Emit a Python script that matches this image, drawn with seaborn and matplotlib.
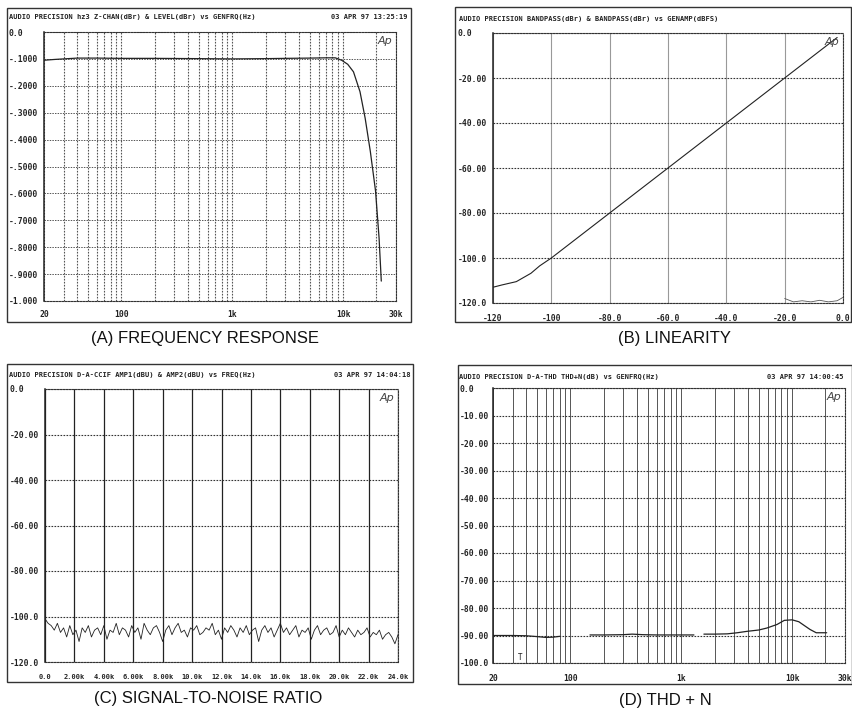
import numpy as np
import matplotlib
matplotlib.use("Agg")
import matplotlib.pyplot as plt
import seaborn as sns
from matplotlib.patches import Rectangle
from matplotlib.ticker import LogLocator, NullFormatter

# --- (A) frequency response ---
freq_a = [20, 25, 30, 40, 60, 100, 200, 500, 1000, 2000, 3000, 5000, 7000,
          8500, 9700, 11000, 12400, 14200, 15800, 17600, 19600, 21100, 22100]
level_a = [-0.105, -0.102, -0.1, -0.097, -0.097, -0.098, -0.098, -0.099, -0.1,
           -0.099, -0.098, -0.097, -0.096, -0.096, -0.105, -0.12, -0.148,
           -0.222, -0.32, -0.444, -0.59, -0.765, -0.926]

# --- (B) linearity ---
amp_b = [-120, -117, -112, -107, -104, -100, -90, -80, -70, -60, -50, -40,
         -30, -20, -10, -2]
out_b = [-113, -112, -110.5, -106.8, -103.5, -100, -90, -80, -70, -60, -50,
         -40, -30, -20, -10, -2]
amp_b2 = [-20, -17, -14, -11, -8, -5, -2, 0]
out_b2 = [-118, -119.5, -119, -119.5, -118.8, -119.5, -119, -117.5]

# --- (C) signal-to-noise ---
noise_c = [
    -101, -103, -104, -106, -103, -107, -105, -109, -104, -108, -106, -111,
    -105, -107, -104, -109, -106, -105, -108, -104, -110, -106, -107, -103,
    -108, -105, -106, -109, -104, -107, -105, -110, -103, -106, -108, -105,
    -104, -107, -111, -106, -104, -108, -105, -103, -107, -106, -109, -105,
    -106, -104, -108, -107, -105, -106, -103, -108, -106, -110, -105, -107,
    -104, -106, -109, -105, -107, -104, -108, -106, -105, -111, -106, -104,
    -107, -105, -109, -106, -103, -107, -105, -108, -106, -104, -109, -106,
    -107, -105, -110, -106, -104, -108, -106, -105, -108, -107, -104, -109,
    -106, -108, -105, -107, -109, -106, -108, -107, -105, -109, -107, -108,
    -106, -110, -108, -107, -109, -112, -108]
freq_c = np.linspace(0, 24000, len(noise_c))

# --- (D) THD + N, three sweeps with gaps ---
thd_f1 = [20, 30, 40, 50, 60, 70, 80]
thd_v1 = [-90, -90, -90.1, -90.4, -90.7, -90.6, -90.3]
thd_f2 = [150, 200, 300, 360, 450, 600, 1000, 1300]
thd_v2 = [-89.8, -89.8, -89.7, -89.5, -89.7, -89.8, -89.8, -89.8]
thd_f3 = [1600, 2000, 2600, 3200, 3900, 5000, 5900, 7300, 8500, 10000, 11500,
          12800, 14500, 16500, 20500]
thd_v3 = [-89.5, -89.5, -89.4, -89.0, -88.5, -88.0, -87.3, -86.0, -84.5,
          -84.3, -85.0, -86.3, -87.8, -89.0, -89.0]

# tick labels as printed on the plots
ya_ticks = [0, -0.1, -0.2, -0.3, -0.4, -0.5, -0.6, -0.7, -0.8, -0.9, -1.0]
ya_labels = ["0.0", "-.1000", "-.2000", "-.3000", "-.4000", "-.5000",
             "-.6000", "-.7000", "-.8000", "-.9000", "-1.000"]
logx_ticks = [20, 100, 1000, 10000, 30000]
logx_labels = ["20", "100", "1k", "10k", "30k"]
yb_ticks = [0, -20, -40, -60, -80, -100, -120]
yb_labels = ["0.0", "-20.00", "-40.00", "-60.00", "-80.00", "-100.0", "-120.0"]
xb_ticks = [-120, -100, -80, -60, -40, -20, 0]
xb_labels = ["-120", "-100", "-80.0", "-60.0", "-40.0", "-20.0", "0.0"]
xc_ticks = [0, 2000, 4000, 6000, 8000, 10000, 12000, 14000, 16000, 18000,
            20000, 22000, 24000]
xc_labels = ["0.0", "2.00k", "4.00k", "6.00k", "8.00k", "10.0k", "12.0k",
             "14.0k", "16.0k", "18.0k", "20.0k", "22.0k", "24.0k"]
yd_ticks = [0, -10, -20, -30, -40, -50, -60, -70, -80, -90, -100]
yd_labels = ["0.0", "-10.00", "-20.00", "-30.00", "-40.00", "-50.00",
             "-60.00", "-70.00", "-80.00", "-90.00", "-100.0"]

sns.set_theme(style="white")
plt.rcParams["font.family"] = ["DejaVu Sans"]

W, H = 853, 711
MONO = "DejaVu Sans Mono"
INK = "#222222"
DOT = (0, (1.5, 1.2))


def px_box(x0, y0, x1, y1):
    return [x0 / W, 1 - y1 / H, (x1 - x0) / W, (y1 - y0) / H]


def style_ax(ax, yt, yl, ypad, xt, xl, xpad, xsize=5.8):
    ax.set_yticks(yt)
    ax.set_yticklabels(yl, ha="left", family=MONO, fontsize=5.8,
                       fontweight="bold", color=INK)
    ax.set_xticks(xt)
    ax.set_xticklabels(xl, family=MONO, fontsize=xsize, fontweight="bold",
                       color=INK)
    ax.tick_params(axis="y", which="both", length=0, pad=ypad * 0.72)
    ax.tick_params(axis="x", which="both", length=0, pad=xpad * 0.72)
    ax.set_xlabel("")
    ax.set_ylabel("")
    for s in ["top", "right", "bottom"]:
        ax.spines[s].set_linestyle(DOT)
        ax.spines[s].set_linewidth(0.8)
        ax.spines[s].set_color("#333333")
    ax.spines["left"].set_linewidth(1.1)
    ax.spines["left"].set_color(INK)
    ax.set_axisbelow(True)
    ax.text(0.99, 0.985, "Ap", transform=ax.transAxes, ha="right", va="top",
            style="italic", fontsize=8, color="#444444")


def log_grid(ax):
    ax.set_xscale("log")
    ax.xaxis.set_minor_locator(LogLocator(base=10, subs=np.arange(2, 10)))
    ax.xaxis.set_minor_formatter(NullFormatter())


fig = plt.figure(figsize=(W / 100, H / 100), dpi=100)

# (A)
ax_a = fig.add_axes(px_box(44, 32, 396, 301))
sns.lineplot(x=freq_a, y=level_a, ax=ax_a, color=INK, linewidth=0.9)
log_grid(ax_a)
ax_a.set_xlim(20, 30000)
ax_a.set_ylim(-1.0, 0)
style_ax(ax_a, ya_ticks, ya_labels, 35, logx_ticks, logx_labels, 9)
ax_a.grid(True, which="both", axis="x", color="#555555", linestyle=DOT, linewidth=0.8)
ax_a.grid(True, which="major", axis="y", color="#555555", linestyle=DOT, linewidth=0.7)

# (B)
ax_b = fig.add_axes(px_box(493, 33, 843, 303))
sns.lineplot(x=amp_b, y=out_b, ax=ax_b, color=INK, linewidth=0.8)
sns.lineplot(x=amp_b2, y=out_b2, ax=ax_b, color="#555555", linewidth=0.6)
ax_b.set_xlim(-120, 0)
ax_b.set_ylim(-120, 0)
style_ax(ax_b, yb_ticks, yb_labels, 35, xb_ticks, xb_labels, 11)
ax_b.grid(True, axis="x", color="#999999", linestyle="-", linewidth=0.8)
ax_b.grid(True, axis="y", color="#333333", linestyle=DOT, linewidth=0.8)

# (C)
ax_c = fig.add_axes(px_box(45, 389, 398, 662))
sns.lineplot(x=freq_c, y=noise_c, ax=ax_c, color=INK, linewidth=0.6)
ax_c.set_xlim(0, 24000)
ax_c.set_ylim(-120, 0)
style_ax(ax_c, yb_ticks, yb_labels, 35, xc_ticks, xc_labels, 12, xsize=5.0)
ax_c.grid(True, axis="x", color="#222222", linestyle="-", linewidth=0.9)
ax_c.grid(True, axis="y", color="#333333", linestyle=DOT, linewidth=0.8)

# (D)
ax_d = fig.add_axes(px_box(493, 388, 845, 663))
for f, v in [(thd_f1, thd_v1), (thd_f2, thd_v2), (thd_f3, thd_v3)]:
    sns.lineplot(x=f, y=v, ax=ax_d, color=INK, linewidth=0.9)
log_grid(ax_d)
ax_d.set_xlim(20, 30000)
ax_d.set_ylim(-100, 0)
style_ax(ax_d, yd_ticks, yd_labels, 33, logx_ticks, logx_labels, 11)
ax_d.grid(True, which="both", axis="x", color="#555555", linestyle="-", linewidth=0.7)
ax_d.grid(True, which="major", axis="y", color="#333333", linestyle=DOT, linewidth=0.8)
ax_d.text(35, -98, "T", family=MONO, fontsize=5.5, color=INK, ha="center", va="center")

# outer frames around each printout
for x0, y0, x1, y1 in [(7, 8, 411, 322), (455, 7, 851, 322),
                       (7, 364, 413, 682), (458, 365, 852, 684)]:
    fig.add_artist(Rectangle((x0 / W, 1 - y1 / H), (x1 - x0) / W, (y1 - y0) / H,
                             transform=fig.transFigure, fill=False,
                             edgecolor="#333333", linewidth=1.0))

# printer headers
hdr = dict(family=MONO, fontsize=5, fontweight="bold", color=INK, va="center")
fig.text(9 / W, 1 - 17 / H, "AUDIO PRECISION hz3 Z-CHAN(dBr) & LEVEL(dBr) vs GENFRQ(Hz)", ha="left", **hdr)
fig.text(408 / W, 1 - 17 / H, "03 APR 97 13:25:19", ha="right", **hdr)
fig.text(459 / W, 1 - 19 / H, "AUDIO PRECISION BANDPASS(dBr) & BANDPASS(dBr) vs GENAMP(dBFS)", ha="left", **hdr)
fig.text(9 / W, 1 - 375 / H, "AUDIO PRECISION D-A-CCIF AMP1(dBU) & AMP2(dBU) vs FREQ(Hz)", ha="left", **hdr)
fig.text(411 / W, 1 - 375 / H, "03 APR 97 14:04:18", ha="right", **hdr)
fig.text(459 / W, 1 - 377 / H, "AUDIO PRECISION D-A-THD THD+N(dB) vs GENFRQ(Hz)", ha="left", **hdr)
fig.text(767 / W, 1 - 377 / H, "03 APR 97 14:00:45", ha="left", **hdr)

# captions
cap = dict(family="Liberation Sans", fontsize=12, color="#111111", ha="center", va="center")
fig.text(205 / W, 1 - 338 / H, "(A) FREQUENCY RESPONSE", **cap)
fig.text(675 / W, 1 - 338 / H, "(B) LINEARITY", **cap)
fig.text(208 / W, 1 - 698 / H, "(C) SIGNAL-TO-NOISE RATIO", **cap)
fig.text(665 / W, 1 - 700 / H, "(D) THD + N", **cap)

fig.savefig("out.png", dpi=100, facecolor="white")
